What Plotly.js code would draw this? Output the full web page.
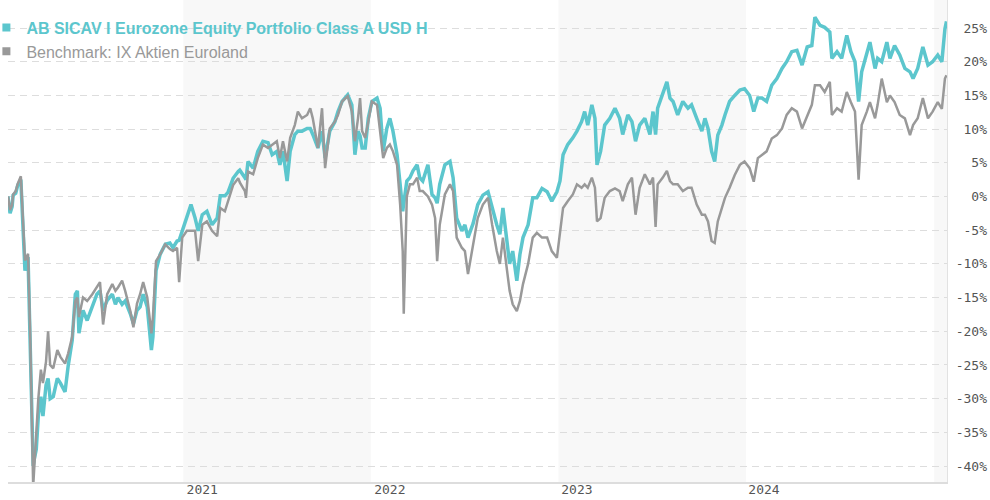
<!DOCTYPE html>
<html>
<head>
<meta charset="utf-8">
<script src="https://cdn.plot.ly/plotly-3.0.1.min.js"></script>
<style>
  html, body { margin: 0; padding: 0; background: #fff; }
  #chart { width: 990px; height: 500px; }
</style>
</head>
<body>
<div id="chart"></div>
<script>
const fundName = "AB SICAV I Eurozone Equity Portfolio Class A USD H";
const benchName = "Benchmark: IX Aktien Euroland";

const dates = [
"2020-01-26","2020-01-30","2020-02-03","2020-02-05","2020-02-10","2020-02-14","2020-02-20","2020-02-24","2020-02-28","2020-03-05",
"2020-03-09","2020-03-15","2020-03-17","2020-03-21","2020-03-25","2020-03-30","2020-04-03","2020-04-09","2020-04-13","2020-04-17",
"2020-04-23","2020-05-01","2020-05-07","2020-05-16","2020-05-22","2020-05-30","2020-06-05","2020-06-09","2020-06-12","2020-06-20",
"2020-06-28","2020-07-08","2020-07-17","2020-07-23","2020-07-29","2020-08-06","2020-08-16","2020-08-22","2020-08-27","2020-09-04",
"2020-09-10","2020-09-20","2020-09-26","2020-10-03","2020-10-09","2020-10-15","2020-10-23","2020-10-31","2020-11-03","2020-11-09",
"2020-11-17","2020-11-27","2020-12-06","2020-12-12","2020-12-20","2020-12-24","2020-12-30","2021-01-08","2021-01-16","2021-01-24",
"2021-01-30","2021-02-07","2021-02-16","2021-02-26","2021-03-08","2021-03-14","2021-03-23","2021-03-29","2021-04-08","2021-04-18",
"2021-04-21","2021-05-01","2021-05-03","2021-05-07","2021-05-17","2021-05-26","2021-06-05","2021-06-15","2021-06-23","2021-07-02",
"2021-07-08","2021-07-14","2021-07-22","2021-07-28","2021-08-06","2021-08-12","2021-08-20","2021-08-30","2021-09-05","2021-09-10",
"2021-09-20","2021-09-28","2021-10-04","2021-10-13","2021-10-23","2021-10-29","2021-11-06","2021-11-17","2021-11-25","2021-12-01",
"2021-12-07","2021-12-11","2021-12-15","2021-12-21","2021-12-27","2022-01-03","2022-01-13","2022-01-19","2022-01-25","2022-02-01",
"2022-02-07","2022-02-13","2022-02-21","2022-02-27","2022-03-04","2022-03-06","2022-03-12","2022-03-18","2022-03-24","2022-04-01",
"2022-04-06","2022-04-12","2022-04-22","2022-04-30","2022-05-06","2022-05-10","2022-05-15","2022-05-25","2022-06-04","2022-06-10",
"2022-06-17","2022-06-27","2022-07-03","2022-07-09","2022-07-19","2022-07-28","2022-08-07","2022-08-17","2022-08-25","2022-09-03",
"2022-09-09","2022-09-15","2022-09-23","2022-09-28","2022-10-04","2022-10-12","2022-10-18","2022-10-24","2022-11-03","2022-11-12",
"2022-11-20","2022-11-30","2022-12-10","2022-12-19","2022-12-29","2023-01-04","2023-01-10","2023-01-19","2023-01-29","2023-02-06",
"2023-02-15","2023-02-21","2023-02-27","2023-03-07","2023-03-13","2023-03-17","2023-03-24","2023-04-01","2023-04-11","2023-04-21",
"2023-04-30","2023-05-06","2023-05-16","2023-05-24","2023-05-31","2023-06-08","2023-06-18","2023-06-28","2023-07-04","2023-07-09",
"2023-07-13","2023-07-23","2023-07-31","2023-08-06","2023-08-12","2023-08-21","2023-08-31","2023-09-10","2023-09-17","2023-09-27",
"2023-10-07","2023-10-13","2023-10-19","2023-10-26","2023-11-01","2023-11-07","2023-11-15","2023-11-21","2023-11-30","2023-12-10",
"2023-12-20","2023-12-29","2024-01-08","2024-01-16","2024-01-24","2024-02-01","2024-02-10","2024-02-20","2024-03-01","2024-03-11",
"2024-03-20","2024-03-30","2024-04-09","2024-04-19","2024-04-29","2024-05-08","2024-05-14","2024-05-24","2024-06-02","2024-06-12",
"2024-06-16","2024-06-26","2024-07-05","2024-07-15","2024-07-23","2024-07-31","2024-08-07","2024-08-13","2024-08-23","2024-08-29",
"2024-09-08","2024-09-13","2024-09-21","2024-10-01","2024-10-07","2024-10-16","2024-10-26","2024-11-05","2024-11-15","2024-11-21",
"2024-11-30","2024-12-10","2024-12-20","2024-12-29","2025-01-08","2025-01-16","2025-01-22","2025-01-25"
];

const fund = [
0,-2.5,-1.5,0.2,0.5,1.7,2.5,-4.0,-11.0,-9.0,
-21.0,-40.0,-39.0,-37.5,-32.6,-29.7,-32.6,-28.0,-27.0,-30.0,
-29.7,-27.0,-27.7,-29.0,-25.2,-21.3,-14.5,-14.0,-20.3,-16.9,
-18.4,-16.4,-14.5,-14.0,-16.9,-15.4,-14.5,-16.0,-15.0,-16.0,
-15.5,-17.4,-18.9,-16.9,-16.4,-14.5,-16.4,-22.8,-20.8,-11.0,
-8.6,-7.1,-6.9,-7.6,-6.6,-6.5,-5.1,-3.2,-1.2,-3.2,
-5.1,-2.7,-2.2,-4.2,-3.2,0.1,0.1,0.6,2.7,3.7,
3.9,2.8,2.5,5.2,4.2,6.7,8.2,8.0,6.2,6.7,
4.7,6.7,2.3,6.7,9.2,9.7,9.7,10.1,10.1,9.2,
7.2,9.7,5.7,9.7,11.1,12.6,14.1,15.1,13.6,6.2,
9.7,9.0,7.2,7.2,11.6,14.1,14.6,13.1,6.7,10.1,
11.6,9.7,6.2,1.8,-2.2,-1.0,2.3,2.8,3.8,4.7,
2.8,2.3,4.7,0.3,-0.2,-1.0,1.8,4.7,5.2,2.8,
-3.2,-5.1,-4.2,-6.1,-4.0,-1.2,0.2,0.7,-1.7,-4.2,
-5.6,-1.7,-6.8,-10.0,-8.1,-12.5,-8.6,-6.1,-4.2,-0.2,
-0.2,1.2,0.7,-0.7,0.7,2.3,6.2,7.7,8.7,9.7,
11.1,12.6,10.6,13.6,11.6,4.7,6.7,10.6,11.6,13.1,
11.6,9.2,12.1,11.1,8.2,10.6,11.6,9.2,12.6,9.2,
13.1,15.1,17.0,14.6,14.1,12.1,14.1,13.1,13.6,11.6,
9.7,11.6,10.1,6.7,5.2,9.1,10.6,12.1,14.1,15.0,
15.8,16.0,15.0,12.6,14.6,14.6,14.1,16.5,17.5,19.0,
20.0,21.5,21.7,19.5,22.2,22.4,26.6,25.4,25.1,24.4,
20.5,21.5,20.5,23.9,21.5,20.0,14.1,18.5,21.0,22.9,
19.0,20.5,20.0,22.9,20.5,22.4,21.0,19.0,18.5,17.5,
19.0,22.2,19.5,20.0,21.0,20.0,24.9,26.0
];

const bench = [
0,-2.0,-1.3,0.3,0.8,1.9,3.0,-3.5,-9.5,-8.5,
-20.0,-43.0,-40.0,-35.0,-30.0,-25.7,-27.7,-24.5,-20.0,-25.0,
-25.5,-22.8,-23.8,-24.8,-23.3,-20.8,-15.5,-15.0,-17.9,-15.0,
-15.5,-14.5,-13.5,-12.7,-19.0,-14.5,-13.0,-14.0,-13.5,-12.5,
-14.0,-17.0,-19.4,-15.9,-14.5,-12.7,-15.0,-20.3,-17.9,-9.6,
-8.6,-7.1,-7.8,-8.1,-7.6,-12.7,-6.1,-5.1,-5.1,-5.1,
-9.6,-4.2,-3.7,-5.1,-5.9,-1.7,-2.2,-0.7,1.7,2.7,
2.1,0.8,-0.2,3.7,3.3,5.7,7.7,7.2,7.7,8.2,
5.7,8.2,5.2,8.7,10.6,12.6,11.6,12.1,13.1,11.6,
7.2,13.1,4.2,10.1,11.1,12.1,14.1,14.9,12.6,8.2,
11.6,14.6,9.7,8.7,11.1,14.1,13.6,9.7,5.7,7.2,
7.7,6.7,4.7,-1.2,-8.1,-17.4,0.0,1.8,1.8,2.8,
0.8,0.8,0.0,-1.2,-3.2,-9.6,-4.2,0.3,1.8,0.8,
-6.1,-7.6,-8.1,-11.5,-6.8,-3.2,-1.2,-0.2,-4.2,-8.1,
-10.0,-6.1,-11.0,-14.0,-16.0,-17.0,-15.5,-13.0,-10.0,-6.1,
-5.4,-6.1,-6.1,-8.1,-9.1,-5.2,-1.7,-0.7,0.3,1.8,
1.3,1.8,1.3,2.8,1.3,-3.7,-3.2,-0.2,0.8,1.2,
0.8,-0.7,1.8,2.8,-2.7,1.3,3.3,1.8,2.8,-4.5,
1.8,2.8,3.8,2.3,1.8,1.8,0.8,1.3,1.3,-1.2,
-2.7,-2.7,-3.7,-6.6,-6.9,-3.7,-1.7,-0.2,1.3,3.2,
4.7,5.2,4.2,2.2,5.7,6.2,6.7,8.6,9.1,10.1,
12.1,13.1,12.6,10.1,12.1,13.6,16.5,16.5,15.5,17.0,
12.1,13.1,12.6,15.5,14.0,12.6,2.5,10.6,12.6,14.0,
11.6,13.6,17.5,14.0,15.0,14.0,12.1,11.6,9.1,10.6,
11.6,14.6,11.6,12.6,14.0,13.0,17.5,18.0
];

const yearTickVals = ["2021-02-07","2022-02-07","2023-02-06","2024-02-05"];
const yearTickText = ["2021","2022","2023","2024"];
const shadedYears = [["2021-01-01","2022-01-01"],["2023-01-01","2024-01-01"],["2025-01-01","2025-02-15"]];
const yTickVals = [25,20,15,10,5,0,-5,-10,-15,-20,-25,-30,-35,-40];

const fundColor = "#5cc6cd";
const benchColor = "#999999";
const yRange = [-42.37, 29.16];
const xRange = ["2020-01-26", "2025-01-26"];

const traces = [
  { x: dates, y: fund, type: "scatter", mode: "lines", name: fundName,
    line: { color: fundColor, width: 3.5 }, showlegend: false, hoverinfo: "skip" },
  { x: dates, y: bench, type: "scatter", mode: "lines", name: benchName,
    line: { color: benchColor, width: 2.5 }, showlegend: false, hoverinfo: "skip" },
  { x: [null], y: [null], type: "scatter", mode: "markers", yaxis: "y2",
    name: '<span style="color:' + fundColor + '"><b>' + fundName + '</b></span>',
    marker: { symbol: "square", size: 8, color: fundColor }, showlegend: true },
  { x: [null], y: [null], type: "scatter", mode: "markers", yaxis: "y2",
    name: '<span style="color:' + benchColor + '">' + benchName + '</span>',
    marker: { symbol: "square", size: 8, color: benchColor }, showlegend: true }
];

const shapes = shadedYears.map(s => ({
  type: "rect", xref: "x", yref: "paper", x0: s[0], x1: s[1], y0: 0, y1: 1,
  fillcolor: "#f8f8f8", line: { width: 0 }, layer: "below"
}));

const layout = {
  width: 990, height: 500,
  margin: { l: 8, r: 0, t: 0, b: 18, pad: 0, autoexpand: false },
  paper_bgcolor: "#ffffff",
  plot_bgcolor: "rgba(0,0,0,0)",
  showlegend: true,
  legend: {
    x: -0.022, y: 0.978, xanchor: "left", yanchor: "top",
    bgcolor: "rgba(0,0,0,0)", borderwidth: 0,
    font: { family: "Liberation Sans, Arial, sans-serif", size: 16, color: benchColor },
    tracegroupgap: 0, itemclick: false, itemdoubleclick: false
  },
  xaxis: {
    type: "date", range: xRange, domain: [0, 939 / 982],
    showgrid: false, zeroline: false, automargin: false,
    showline: true, linecolor: "#dddddd", linewidth: 2,
    tickmode: "array", tickvals: yearTickVals, ticktext: yearTickText,
    ticks: "", ticklabelstandoff: -6,
    tickfont: { family: "DejaVu Sans Mono, monospace", size: 13, color: "#555555" }
  },
  yaxis: {
    range: yRange, side: "right", automargin: false,
    showgrid: true, gridcolor: "#dddddd", griddash: "7px,5px", gridwidth: 1,
    zeroline: false, showline: true, linecolor: "#e2e2e2", linewidth: 1,
    tickmode: "array", tickvals: yTickVals, showticklabels: false, ticks: ""
  },
  yaxis2: {
    range: yRange, overlaying: "y", side: "right", anchor: "free", position: 1,
    showgrid: false, zeroline: false, showline: false, automargin: false,
    tickmode: "array", tickvals: yTickVals,
    ticktext: yTickVals.map(v => v + "%"),
    ticklabelposition: "inside", ticks: "",
    tickfont: { family: "DejaVu Sans Mono, monospace", size: 13, color: "#555555" }
  },
  shapes: shapes
};

Plotly.newPlot("chart", traces, layout, { displayModeBar: false, staticPlot: true });
</script>
</body>
</html>
